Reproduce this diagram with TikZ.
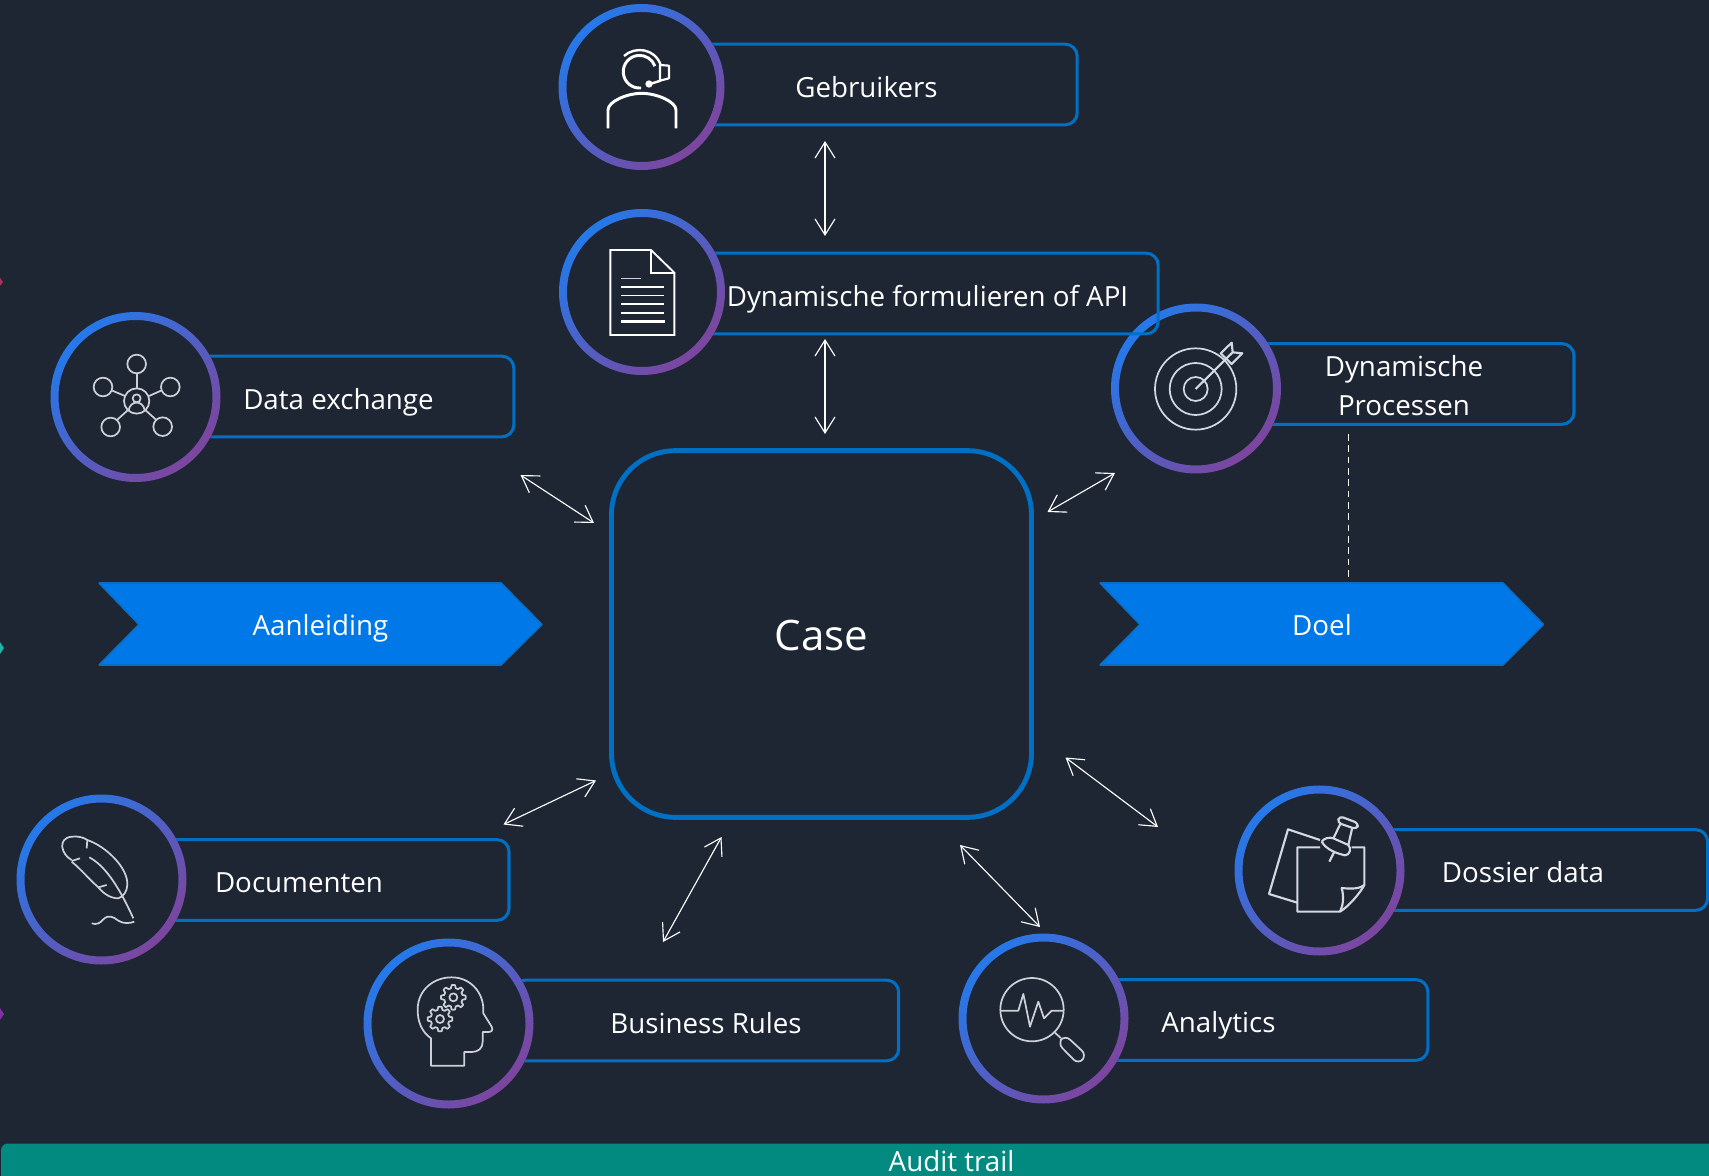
\documentclass[tikz,border=0pt]{standalone}
\usepackage{fontspec}
\setmainfont{Open Sans}
\usetikzlibrary{arrows.meta}
\definecolor{bg}{HTML}{1E2533}
\definecolor{boxblue}{HTML}{0070C4}
\definecolor{chevfill}{HTML}{0078E7}
\definecolor{chevline}{HTML}{0A6FC4}
\definecolor{teal}{HTML}{028A80}
\definecolor{ringa}{HTML}{2579EA}
\definecolor{ringb}{HTML}{7D459E}
\definecolor{icongrey}{HTML}{CDD1D7}
\pgfdeclarehorizontalshading{ringgrad}{100bp}{color(0bp)=(ringa);color(25bp)=(ringa);color(75bp)=(ringb);color(100bp)=(ringb)}
\tikzset{
  lbl/.style={text=white,font=\fontsize{20.8}{29.5}\selectfont,align=center,inner sep=0pt},
  labelbox/.style={draw=boxblue,line width=2.3pt,rounded corners=9pt,lbl,minimum height=60.5pt,text height=19.2pt,text depth=0.4pt},
  disc/.style={circle,fill=bg,draw=none,inner sep=0pt},
  ringshade/.style={shading=ringgrad,shading angle=-45,even odd rule},
  twoway/.style={white,line width=0.85pt,{Straight Barb[length=12pt,width=15pt]}-{Straight Barb[length=12pt,width=15pt]}},
  chevron/.style={fill=chevfill,draw=chevline,line width=1.2pt,line join=bevel},
  iconline/.style={draw=white,line width=2.2pt},
  iconthin/.style={draw=icongrey,line width=1.3pt,line join=round},
}
% name, x, y, outer radius in px
\newcommand{\ringnode}[4]{%
  \node[disc,minimum size=#4*1.5pt] (#1) at (#2,#3) {};
  \path[ringshade] (#1.center) circle (#4) (#1.center) circle (#4-8);
}
\newcommand{\gearicon}[2]{%
  \draw[iconthin] plot[samples=97,domain=0:360,variable=\t]
    ({#1+min(37,max(28,32.5+14*cos(8*\t)))*cos(\t)},{#2+min(37,max(28,32.5+14*cos(8*\t)))*sin(\t)});
  \draw[iconthin] (#1,#2) circle (12);
}
\begin{document}
\begin{tikzpicture}[x=0.75pt,y=-0.75pt]
\useasboundingbox (0,0) rectangle (1709,1176);
\fill[bg] (0,0) rectangle (1709,1176);

% edge marks
\fill[fill={rgb,255:red,176;green,48;blue,90}] (0,278) -- (3,282) -- (0,286) -- cycle;
\fill[fill={rgb,255:red,31;green,181;blue,165}] (0,642) -- (4,648) -- (0,654) -- cycle;
\fill[fill={rgb,255:red,128;green,48;blue,160}] (0,1008) -- (4,1014) -- (0,1020) -- cycle;

% audit trail
\fill[teal,rounded corners=5pt] (1,1143.5) rectangle (1730,1200);
\node[lbl] (audit) at (951.5,1161.5) {Audit trail};

% chevrons
\path[chevron] (99,583) -- (501,583) -- (542,624.5) -- (501,665) -- (99,665) -- (139,624.5) -- cycle;
\node[lbl,text height=16pt,text depth=0pt] (aanleiding) at (320.5,625) {Aanleiding};
\path[chevron] (1100,583) -- (1503,583) -- (1543.5,624.5) -- (1503,665) -- (1100,665) -- (1140,624.5) -- cycle;
\node[lbl,text height=16pt,text depth=0pt] (doel) at (1322,625) {Doel};

% case
\node[draw=boxblue,line width=3.7pt,rounded corners=48pt,minimum width=315pt,minimum height=275pt,text=white,font=\fontsize{31.5}{36}\selectfont,text height=25pt,text depth=0pt] (case) at (821.5,634) {Case};

% dynamische processen (below the formulieren box)
\node[labelbox,minimum width=255pt] (bproc) at (1404,384) {};
\node[lbl] (tproc) at (1404,385.6) {Dynamische\\Processen};
\ringnode{cproc}{1196}{388.5}{85}

% gebruikers
\node[labelbox,minimum width=316pt] (bgeb) at (866.5,84.5) {Gebruikers};
\ringnode{cgeb}{641.5}{87}{83}

% formulieren
\node[labelbox,minimum width=346pt] (bform) at (927.5,293.5) {Dynamische formulieren of API};
\ringnode{cform}{642}{292}{83}

% data exchange
\node[labelbox,minimum width=263pt] (bdata) at (338.5,396.5) {Data exchange};
\ringnode{cdata}{135.5}{397}{85}

% documenten
\node[labelbox,minimum width=315pt] (bdoc) at (299,880) {Documenten};
\ringnode{cdoc}{101.5}{879.5}{85}

% business rules
\node[labelbox,minimum width=289pt] (bbus) at (706,1020.5) {Business Rules};
\ringnode{cbus}{448.5}{1023.5}{85}

% analytics
\node[labelbox,minimum width=314pt] (bana) at (1218.5,1020) {Analytics};
\ringnode{cana}{1043.5}{1018.5}{85}

% dossier
\node[labelbox,minimum width=277pt] (bdos) at (1523,870) {Dossier data};
\ringnode{cdos}{1319.5}{870.5}{85}

% connector ends
\coordinate (a1) at (825,141);   \coordinate (a2) at (825,236);
\coordinate (b1) at (825,339);   \coordinate (b2) at (825,434);
\coordinate (c1) at (520.5,475); \coordinate (c2) at (594,523);
\coordinate (d1) at (1115,473);  \coordinate (d2) at (1047.5,512);
\coordinate (e1) at (503.5,824.5); \coordinate (e2) at (596,780.5);
\coordinate (f1) at (663,942);   \coordinate (f2) at (721.5,837);
\coordinate (g1) at (960,845);   \coordinate (g2) at (1040,927);
\coordinate (h1) at (1065.5,757.5);\coordinate (h2) at (1158,827);
\coordinate (k1) at (1348.5,434);  \coordinate (k2) at (1348.5,581);
\draw[twoway] (a1) -- (a2);
\draw[twoway] (b1) -- (b2);
\draw[twoway] (c1) -- (c2);
\draw[twoway] (d1) -- (d2);
\draw[twoway] (e1) -- (e2);
\draw[twoway] (f1) -- (f2);
\draw[twoway] (g1) -- (g2);
\draw[twoway] (h1) -- (h2);
\draw[white,line width=1pt,dash pattern=on 5pt off 3.5pt] (k1) -- (k2);

% icon: user with headset
\begin{scope}[shift={(540,0)},x=0.25pt,y=-0.25pt]
\draw[iconline] (303,264) arc[start angle=85,end angle=340,radius=49];
\draw[iconline,line width=1.8pt] (252,168) .. controls (285,138) and (345,145) .. (362,195);
\draw[iconline,line width=1.6pt,line join=round] (360,195) -- (387,197) -- (387,235) -- (360,242) -- cycle;
\draw[iconline,line width=1.8pt] (362,242) -- (330,252);
\fill[white] (327,252) circle (11);
\draw[iconline,line join=round] (204,385) -- (204,330) .. controls (204,305) and (260,280) .. (305,280) .. controls (350,280) and (408,305) .. (408,330) -- (408,385);
\end{scope}

% icon: document
\begin{scope}[shift={(540,200)},x=0.25pt,y=-0.25pt]
\draw[white,line width=1.4pt] (211,150) -- (333,150) -- (403,218) -- (403,405) -- (211,405) -- cycle;
\draw[white,line width=1.4pt] (333,150) -- (333,218) -- (403,218);
\draw[icongrey,line width=1.1pt] (243,235) -- (303,235);
\foreach \yy in {261,287,313,339} \draw[white,line width=1.25pt] (243,\yy) -- (373,\yy);
\draw[white,line width=2pt] (243,364) -- (375,364);
\end{scope}

% icon: data exchange
\begin{scope}[shift={(30,300)},x=0.25pt,y=-0.25pt]
\foreach \px/\py in {320/192,219/261,421/261,242/381,398/380} \draw[iconthin] (\px,\py) circle (28);
\draw[iconthin] (320,303) circle (38);
\draw[iconthin] (320,295) circle (12);
\draw[iconthin] (296,331) .. controls (300,300) and (340,300) .. (344,331);
\draw[iconthin] (320,220) -- (320,265);
\draw[iconthin] (247,272) -- (285,288);
\draw[iconthin] (393,272) -- (357,288);
\draw[iconthin] (262,359) -- (293,331);
\draw[iconthin] (378,359) -- (347,331);
\end{scope}

% icon: target
\begin{scope}[shift={(1100,290)},x=0.25pt,y=-0.25pt]
\foreach \rr in {122,78,36} \draw[iconthin,draw={rgb,255:red,207;green,218;blue,226}] (287,297) circle (\rr);
\draw[iconthin,draw={rgb,255:red,207;green,218;blue,226},line width=1.6pt] (287,297) -- (398,187);
\draw[iconthin,draw={rgb,255:red,207;green,218;blue,226},line width=1.6pt] (362,190) -- (395,158) -- (398,187) -- (427,190) -- (395,222) -- cycle;
\end{scope}

% icon: quill
\begin{scope}[shift={(0,780)},x=0.25pt,y=-0.25pt]
\draw[iconthin] (215,240) .. controls (185,225) and (170,175) .. (215,170) .. controls (235,168) and (250,172) .. (262,180) .. controls (320,200) and (385,265) .. (382,315) .. controls (381,335) and (370,350) .. (355,355) .. controls (330,355) and (310,340) .. (295,322) .. controls (270,300) and (240,265) .. (215,245);
\draw[iconthin] (240,235) -- (215,243);
\draw[iconthin] (262,180) -- (260,205);
\draw[iconthin] (295,322) -- (320,315);
\draw[iconthin] (268,232) .. controls (310,255) and (350,305) .. (400,415);
\draw[iconthin] (275,430) .. controls (290,435) and (300,430) .. (310,418) .. controls (325,403) and (340,410) .. (355,422) .. controls (370,432) and (390,430) .. (403,425);
\end{scope}

% icon: head with gears
\begin{scope}[shift={(350,930)},x=0.25pt,y=-0.25pt]
\draw[iconthin] (243,407) -- (243,325) .. controls (215,305) and (202,275) .. (203,235) .. controls (205,180) and (250,142) .. (305,142) .. controls (360,142) and (398,185) .. (400,235) -- (400,250) -- (425,290) .. controls (430,300) and (425,306) .. (415,306) -- (398,306) -- (398,335) .. controls (398,355) and (385,366) .. (365,366) -- (343,366) -- (343,407) -- cycle;
\gearicon{310}{202}
\gearicon{270}{267}
\end{scope}

% icon: analytics
\begin{scope}[shift={(950,920)},x=0.25pt,y=-0.25pt]
\draw[iconthin] (246,269) circle (95);
\draw[iconthin] (152,272) -- (205,272) -- (220,222) -- (240,320) -- (265,245) -- (282,295) -- (305,272) -- (340,272);
\draw[iconthin] (315,338) -- (332,354);
\draw[iconthin,rounded corners=5pt] (345,345) -- (410,405) -- (385,433) -- (323,370) -- cycle;
\end{scope}

% icon: pinned notes
\begin{scope}[shift={(1220,770)},x=0.25pt,y=-0.25pt]
\begin{scope}[every path/.style={draw={rgb,255:red,213;green,216;blue,222},line width=1.6pt,line join=round}]
\path (300,210) -- (204,178) -- (147,372) -- (232,398);
\path (300,232) -- (232,232) -- (232,425) -- (360,425) .. controls (385,410) and (420,370) .. (433,345) -- (433,232) -- (395,232);
\path (433,345) .. controls (420,355) and (400,358) .. (365,354) .. controls (372,380) and (370,405) .. (360,425);
\path[rounded corners=3pt] (358,138) -- (416,160) -- (410,178) -- (352,158) -- cycle;
\path (362,160) -- (340,205);
\path (397,172) -- (385,225);
\path (305,215) .. controls (310,205) and (330,200) .. (340,205) -- (385,225) .. controls (395,235) and (390,255) .. (375,256) .. controls (350,250) and (320,240) .. (305,215);
\path (343,245) -- (328,275);
\end{scope}
\end{scope}
\end{tikzpicture}
\end{document}
